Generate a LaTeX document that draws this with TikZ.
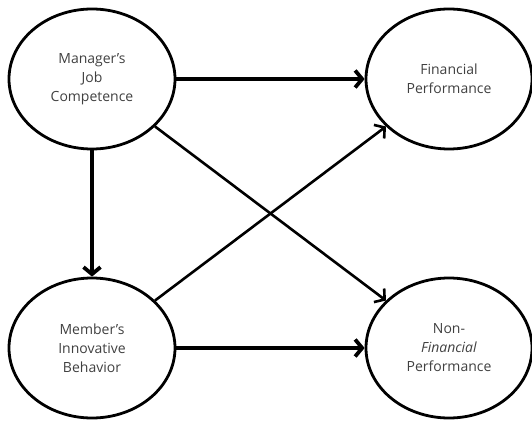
\documentclass[tikz,border=0pt]{standalone}
\usepackage{fontspec}
\setmainfont{Open Sans}
\usepackage{tikz}
\usetikzlibrary{positioning,shapes.geometric}
\usetikzlibrary{arrows.meta}

\begin{document}
\begin{tikzpicture}[node distance=269pt and 357pt,on grid,
    construct/.style={ellipse,draw,line width=2.8pt,minimum width=166pt,minimum height=140pt,
      align=center,font=\fontsize{14}{19}\selectfont,text=black!75},
    link/.style={-{Straight Barb[length=7pt,width=17pt]},line width=2.6pt},
    mainlink/.style={link,line width=3.8pt}]
   \useasboundingbox (0,0) rectangle (532pt,-422pt);
   \node[construct] (mgr) at (92pt,-79pt) {Manager's\\Job\\Competence};
   \node[construct] (fin) [right=of mgr] {Financial\\Performance};
   \node[construct] (mem) [below=of mgr] {Member's\\Innovative\\Behavior};
   \node[construct] (nonfin) [right=of mem] {Non-\\\textit{Financial}\\Performance};
    \draw[mainlink] (mgr) -- (fin);
    \draw[mainlink] (mgr) -- (mem);
    \draw[mainlink] (mem) -- (nonfin);
    \draw[link] (mgr) -- (nonfin);
    \draw[link] (mem) -- (fin);
\end{tikzpicture}
\end{document}
